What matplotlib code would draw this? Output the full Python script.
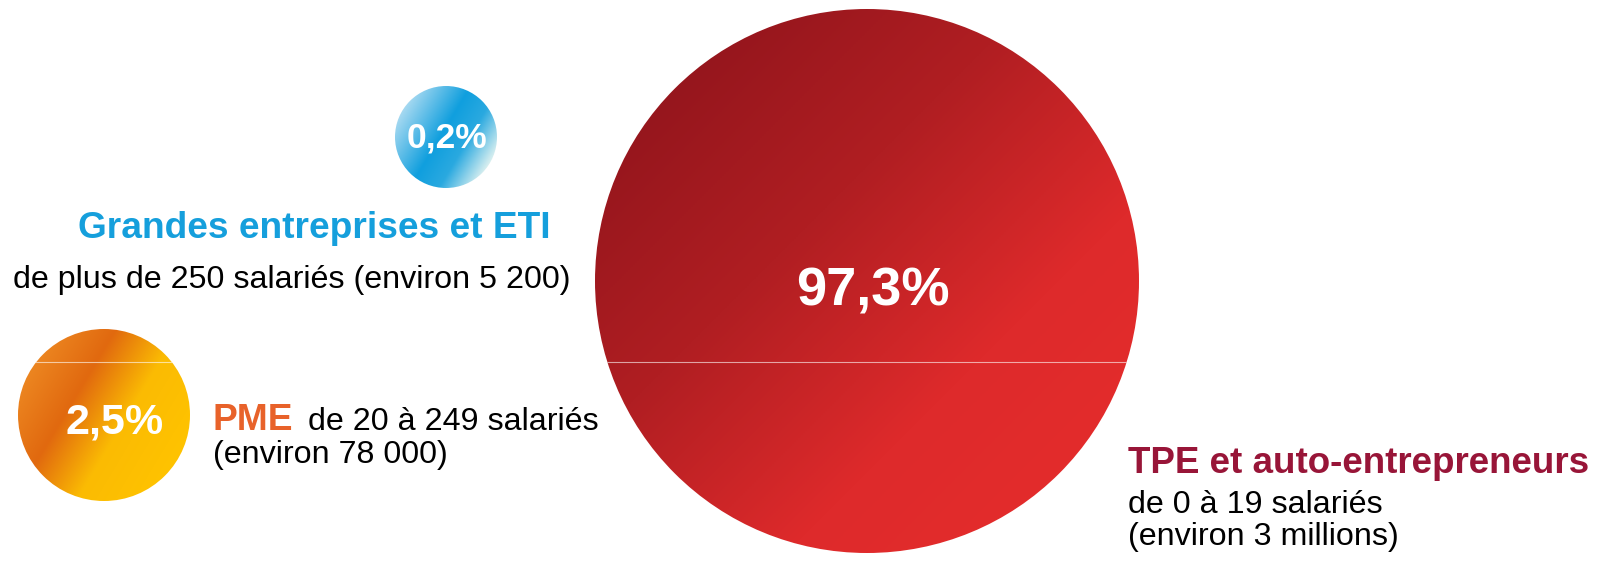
import numpy as np
import matplotlib
matplotlib.use("Agg")
import matplotlib.pyplot as plt
from matplotlib.patches import Circle
from matplotlib.colors import LinearSegmentedColormap

plt.rcParams['font.family'] = ['Liberation Sans', 'DejaVu Sans']

# data
shares = ["0,2%", "2,5%", "97,3%"]
titles = ["Grandes entreprises et ETI", "PME", "TPE et auto-entrepreneurs"]
details = [
    ["de plus de 250 salariés (environ 5 200)"],
    ["de 20 à 249 salariés", "(environ 78 000)"],
    ["de 0 à 19 salariés", "(environ 3 millions)"],
]
title_colors = ["#159FDC", "#E8622A", "#981538"]

# circle layout (pixels): center x, center y, radius, gradient direction, colour stops
bubbles = [
    (446, 137, 51, (1.0, 0.6),
     [(0.0, "#A6D9F1"), (0.45, "#109FDE"), (0.7, "#2AA9E0"), (1.0, "#D8EFF0")]),
    (104, 415, 86, (1.0, 0.6),
     [(0.0, "#EC8520"), (0.3, "#E1690F"), (0.62, "#FBBB03"), (1.0, "#FFC300")]),
    (867, 281, 272, (1.0, 1.0),
     [(0.0, "#96161D"), (0.35, "#B01E22"), (0.75, "#DE2A2B"), (1.0, "#E32C2C")]),
]
label_pos = [(447, 147, 25.5), (115, 433, 31), (873, 305, 39)]

W, H = 1608, 561
fig = plt.figure(figsize=(W / 100, H / 100), dpi=100)
ax = fig.add_axes([0, 0, 1, 1])
ax.set_xlim(0, W)
ax.set_ylim(H, 0)
ax.axis("off")

for (cx, cy, r, d, stops), share, (lx, ly, fs) in zip(bubbles, shares, label_pos):
    cmap = LinearSegmentedColormap.from_list("g", stops)
    xs = np.linspace(cx - r, cx + r, 300)
    ys = np.linspace(cy - r, cy + r, 300)
    X, Y = np.meshgrid(xs, ys)
    dx, dy = np.array(d) / np.hypot(*d)
    t = ((X - cx) * dx + (Y - cy) * dy) / r
    t = (t + 1) / 2
    circ = Circle((cx, cy), r, transform=ax.transData, facecolor="none", edgecolor="none")
    ax.add_patch(circ)
    im = ax.imshow(t, cmap=cmap, vmin=0, vmax=1, extent=(cx - r, cx + r, cy + r, cy - r),
                   interpolation="bilinear", zorder=1)
    im.set_clip_path(circ)
    if r > 60:
        ln, = ax.plot([cx - r, cx + r], [362, 362], color="white", lw=0.8, alpha=0.6, zorder=2)
        ln.set_clip_path(circ)
    ax.text(lx, ly, share, color="white", fontsize=fs, fontweight="bold",
            ha="center", va="baseline", zorder=3)

# Grandes entreprises
ax.text(78, 238, titles[0], color=title_colors[0], fontsize=26.7, fontweight="bold", va="baseline")
ax.text(13, 288, details[0][0], color="black", fontsize=23.2, va="baseline")

# PME
ax.text(213, 430, titles[1], color=title_colors[1], fontsize=26.7, fontweight="bold", va="baseline")
ax.text(308, 430, details[1][0], color="black", fontsize=23.2, va="baseline")
ax.text(213, 463, details[1][1], color="black", fontsize=23.2, va="baseline")

# TPE
ax.text(1128, 473, titles[2], color=title_colors[2], fontsize=26.5, fontweight="bold", va="baseline")
ax.text(1128, 513, details[2][0], color="black", fontsize=23.2, va="baseline")
ax.text(1128, 545, details[2][1], color="black", fontsize=23.2, va="baseline")

fig.savefig("out.png", dpi=100)
